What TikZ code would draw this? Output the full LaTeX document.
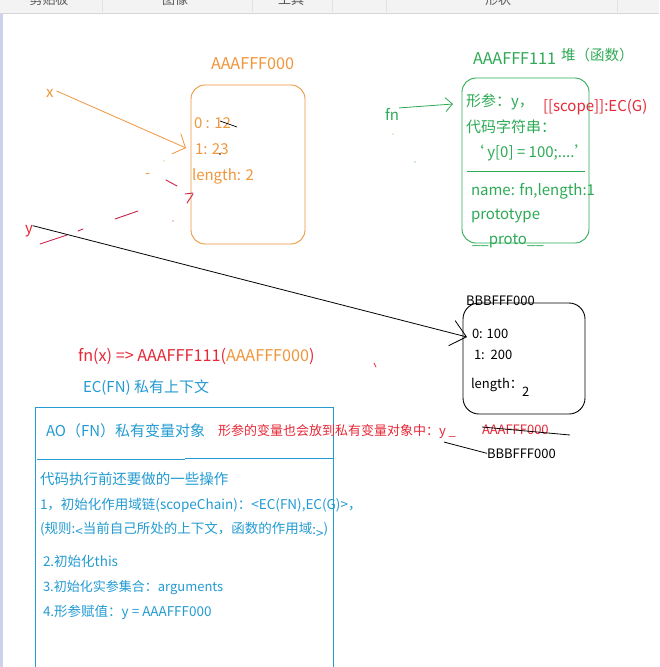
\documentclass[tikz,border=0pt]{standalone}
\usepackage{fontspec}
\setmainfont{Noto Sans CJK SC}
\usetikzlibrary{arrows.meta}
\definecolor{orng}{RGB}{240,150,60}
\definecolor{grn}{RGB}{45,170,85}
\definecolor{rd}{RGB}{230,40,55}
\definecolor{blu}{RGB}{35,155,210}
\definecolor{crim}{RGB}{200,35,70}
\definecolor{tbar}{RGB}{243,243,243}
\definecolor{tline}{RGB}{214,214,214}
\definecolor{tsep}{RGB}{226,226,226}
\definecolor{ttext}{RGB}{90,90,90}
\definecolor{lav}{RGB}{205,210,236}
\newcommand{\fsz}[1]{\fontsize{#1}{#1}\selectfont}
\begin{document}
\begin{tikzpicture}[x=1pt,y=-1pt,
  txt/.style={anchor=base west, inner sep=0pt, outer sep=0pt},
  lbl/.style={txt, font=\fsz{15}},
  big/.style={txt, font=\fsz{16.2}},
  sml/.style={txt, font=\fsz{13}},
  lst/.style={txt, font=\fsz{13.5}, text=blu},
  membox/.style={draw, rounded corners=14pt, inner sep=0pt, line width=0.9pt},
  conn/.style={line width=0.8pt},
  penstroke/.style={line width=0.9pt, line cap=round}]
\useasboundingbox (0,0) rectangle (659,667);
\fill[white] (0,0) rectangle (659,667);
% toolbar
\fill[tbar] (0,0) rectangle (659,13);
\draw[tline, line width=1pt] (0,13) -- (659,13);
\foreach \sx in {102,252,332,386,617} \draw[tsep] (\sx,0) -- (\sx,12);
\begin{scope}
\clip (0,0) rectangle (659,13);
\node[txt, font=\fsz{13}, text=ttext, anchor=base] (tb1) at (49,4) {剪贴板};
\node[txt, font=\fsz{13}, text=ttext, anchor=base] (tb2) at (175,4) {图像};
\node[txt, font=\fsz{13}, text=ttext, anchor=base] (tb3) at (291,4) {工具};
\node[txt, font=\fsz{13}, text=ttext, anchor=base] (tb4) at (498,4) {形状};
\end{scope}
\fill[lav] (0,13.5) rectangle (2.5,667);

% ---------- orange object AAAFFF000
\node[membox, draw=orng, minimum width=114pt, minimum height=159pt] (obox) at (248,164.5) {};
\node[big, text=orng] (olab) at (211,69) {AAAFFF000};
\node[lbl, text=orng] (o0) at (194,128) {0 : 12};
\node[lbl, text=orng] (o1) at (195,154) {1: 23};
\node[lbl, text=orng] (o2) at (192,180) {length: 2};
\draw[black, line width=0.7pt] (220,121) -- (237,127);
\fill[black] (220,154) circle (0.8);
\node[lbl, text=orng] (xv) at (46,97) {x};
\coordinate (xtip) at (186,148);
\draw[conn, orng, -{Straight Barb[length=10pt,width=22pt]}] (xv.east) ++(3,-2) -- (xtip);

% red strokes from y
\node[lbl, text=rd] (yv) at (25,233) {y};
\draw[penstroke, crim] (40,244) -- (67,235);
\draw[penstroke, crim] (78,231) -- (83,229);
\draw[penstroke, crim] (115,219) -- (138,211);
\draw[penstroke, crim] (166,180) -- (177,186);
\fill[crim] (173,221) circle (0.6);
\draw[penstroke, crim] (185,194) -- (193,193);
\draw[penstroke, crim] (187,203) -- (193,194);
\fill[orng] (164,161) circle (0.7);
\draw[penstroke, orng] (146,173) -- (149,173);

% ---------- green function object AAAFFF111
\node[membox, draw=grn, minimum width=127pt, minimum height=165pt] (gbox) at (525.5,160.5) {};
\node[big, text=grn] (glab) at (473,64) {AAAFFF111};
\node[txt, font=\fsz{14.5}, text=grn] (gheap) at (561,60) {堆（函数）};
\node[lbl, text=grn] (g0) at (466,106) {形参：y，};
\node[lbl, text=rd] (gscope) at (543,111) {[[scope]]:EC(G)};
\node[lbl, text=grn] (g1) at (466,132) {代码字符串：};
\node[lbl, text=grn] (g2) at (469,157) {‘ y[0] = 100;....’};
\draw[grn, line width=0.9pt] (467,171) -- (585,171);
\node[lbl, text=grn] (g3) at (471,195) {name: fn,length:1};
\node[lbl, text=grn] (g4) at (471,219) {prototype};
\node[lbl, text=grn] (g5) at (472,244) {\_\_proto\_\_};
\node[lbl, text=grn] (fnv) at (385,120) {fn};
\coordinate (fntip) at (453,104);
\draw[conn, grn, -{Straight Barb[length=7pt,width=14pt]}] (fnv.east) ++(0,-6) -- (fntip);
\fill[orng] (393,134) circle (0.7);
\fill[grn] (415,162) circle (0.7);

% ---------- black array BBBFFF000
\node[membox, draw=black, rounded corners=16pt, minimum width=122pt, minimum height=111pt] (bbox) at (524,358.5) {};
\node[sml, text=black] (blab) at (466,305) {BBBFFF000};
\node[sml, text=black] (b0) at (472,338) {0: 100};
\node[sml, text=black] (b1) at (474,359) {1:\ \ 200};
\node[sml, text=black] (b2) at (471,388) {length：};
\node[sml, text=black] (b3) at (522,396) {2};
\coordinate (ytip) at (467,337);
\draw[conn, black, -{Straight Barb[length=15pt,width=26pt]}] (yv.east) ++(0,-5) -- (ytip);
\draw[penstroke, rd, line width=0.7pt] (374,363) -- (376,367);

% ---------- call expression
\node[big, text=rd] (call) at (78,361) {fn(x) => AAAFFF111(\textcolor{orng}{AAAFFF000})};
\node[lbl, text=blu] (ecfn) at (83,392) {EC(FN) 私有上下文};

% ---------- blue AO box
\node[draw=blu, line width=0.9pt, inner sep=0pt, minimum width=298pt, minimum height=270pt] (aobox) at (184,542) {};
\draw[blu, line width=0.9pt] (37,459) -- (185,459);
\draw[blu, line width=0.9pt] (185,458) -- (333,458);
\node[lbl, text=blu] (aolab) at (46,436) {AO（FN）私有变量对象};
\node[sml, text=rd] (note) at (218,435) {形参的变量也会放到私有变量对象中：y \_};
\node[sml, text=rd] (oldref) at (482,434) {AAAFFF000};
\draw[black, line width=0.8pt] (482,427) -- (570,435);
\node[sml, text=black] (newref) at (487,458) {BBBFFF000};
\draw[conn, black] (note.south east) ++(-12,4) -- (newref.west);

\node[lst, font=\fsz{14.5}] (l0) at (40,484) {代码执行前还要做的一些操作};
\node[lst] (l1) at (40,509) {1，初始化作用域链(scopeChain)：<EC(FN),EC(G)>，};
\node[lst] (l2) at (40,533) {(规则:\raisebox{-3pt}{<}当前自己所处的上下文，函数的作用域\raisebox{-1pt}{:}\raisebox{-5pt}{>})};
\node[lst] (l3) at (43,566) {2.初始化this};
\node[lst, font=\fsz{13}] (l4) at (43,591) {3.初始化实参集合：arguments};
\node[lst] (l5) at (43,616) {4.形参赋值：y = AAAFFF000};
\end{tikzpicture}
\end{document}
